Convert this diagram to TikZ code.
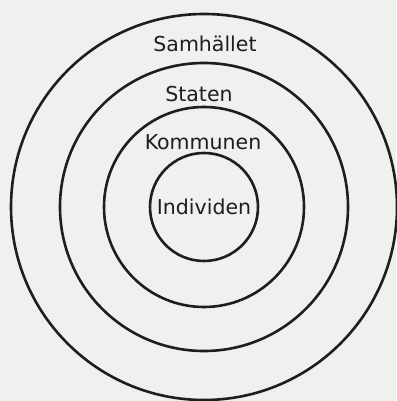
\documentclass[tikz,border=0pt]{standalone}
\usepackage{fontspec}
\setmainfont{DejaVu Sans}
\definecolor{paper}{RGB}{240,240,238}
\definecolor{ink}{RGB}{30,30,30}

\begin{document}
\begin{tikzpicture}[x=1pt,y=1pt,
  ring/.style={draw=ink,line width=2.6pt},
  lbl/.style={anchor=base,inner sep=0pt,text=ink,font=\fontsize{20.5}{24}\selectfont}]
\fill[paper] (0,0) rectangle (396,401);
\useasboundingbox (0,0) rectangle (396,401);
\coordinate (mid) at (204,194);
\draw[ring] (mid) circle (193);
\draw[ring] (mid) circle (144);
\draw[ring] (mid) circle (100);
\draw[ring] (mid) circle (54);
\node[lbl] (samhallet) at (205,349) {Samhället};
\node[lbl] (staten) at (199,299) {Staten};
\node[lbl] (kommunen) at (203,251) {Kommunen};
\node[lbl] (individen) at (204,186) {Individen};
\end{tikzpicture}
\end{document}
